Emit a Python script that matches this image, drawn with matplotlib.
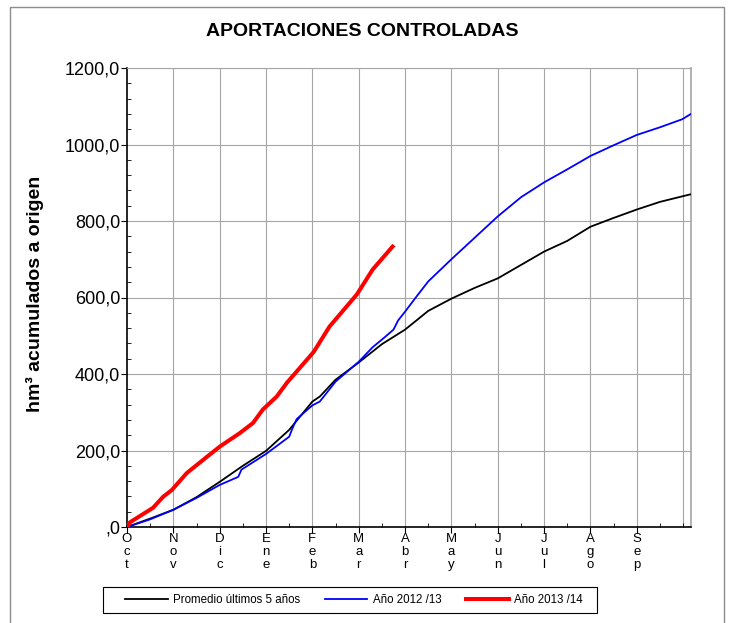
import matplotlib
matplotlib.use('Agg')
import matplotlib.pyplot as plt
from matplotlib.patches import Rectangle
from matplotlib.ticker import MultipleLocator

plt.rcParams['font.family'] = ['Liberation Sans', 'DejaVu Sans']

# month letters for the hydrological year (Oct -> Sep)
meses = ['Oct', 'Nov', 'Dic', 'Ene', 'Feb', 'Mar', 'Abr', 'May', 'Jun', 'Jul', 'Ago', 'Sep']

# x in months since 1 Oct, y in hm3 accumulated
prom_x = [0, 0.5, 1.0, 1.5, 2.0, 2.5, 3.0, 3.5, 4.0, 4.16, 4.5, 5.0, 5.5, 6.0, 6.5,
          7.0, 7.5, 8.0, 8.5, 9.0, 9.5, 10.0, 10.5, 11.0, 11.5, 12.0, 12.17]
prom_y = [0, 22, 45, 78, 118, 160, 199, 254, 328, 341, 385, 430, 478, 516, 565,
          597, 625, 650, 685, 720, 748, 785, 808, 830, 850, 865, 870]

a1213_x = [0, 0.5, 1.0, 1.5, 2.0, 2.4, 2.47, 3.0, 3.5, 3.56, 3.66, 4.0, 4.16, 4.5,
           5.0, 5.3, 5.55, 5.75, 5.85, 6.0, 6.25, 6.5, 7.0, 7.5, 8.0, 8.5, 9.0,
           9.5, 10.0, 10.5, 11.0, 11.5, 11.98, 12.17]
a1213_y = [0, 20, 45, 76, 110, 131, 150, 191, 236, 255, 282, 318, 328, 380,
           432, 470, 495, 516, 540, 563, 603, 642, 700, 756, 812, 862, 901,
           935, 970, 998, 1025, 1045, 1066, 1080]

a1314_x = [0, 0.06, 0.56, 0.78, 0.97, 1.29, 1.72, 2.0, 2.44, 2.72, 2.93, 3.23,
           3.45, 4.03, 4.37, 4.96, 5.30, 5.73]
a1314_y = [0, 12, 50, 79, 97, 141, 183, 210, 246, 272, 307, 341,
           377, 458, 524, 608, 673, 733]

fig = plt.figure(figsize=(7.32, 6.23), dpi=100)
ax = fig.add_axes([127 / 732, 1 - 527 / 623, 564 / 732, 459 / 623])

ax.plot(prom_x, prom_y, color='black', lw=1.3, label='Promedio últimos 5 años', zorder=3)
ax.plot(a1213_x, a1213_y, color='#0000ff', lw=1.3, label='Año 2012 /13', zorder=4)
ax.plot(a1314_x, a1314_y, color='#ff0000', lw=2.9, label='Año 2013 /14', zorder=5)

ax.set_xlim(0, 12.17)
ax.set_ylim(0, 1200)

ax.set_xticks(range(12))
ax.set_xticklabels(['\n'.join(m) for m in meses], fontsize=9.5, linespacing=1.1)
ax.xaxis.set_minor_locator(MultipleLocator(0.5))
ax.tick_params(axis='x', which='major', direction='out', length=4, pad=0.5)
ax.tick_params(axis='x', which='minor', direction='in', length=3)

yt = list(range(0, 1201, 200))
ax.set_yticks(yt)
ax.set_yticklabels([',0' if v == 0 else f'{v},0' for v in yt], fontsize=13)
ax.yaxis.set_minor_locator(MultipleLocator(40))
ax.tick_params(axis='y', which='major', direction='out', length=4, pad=1)
ax.tick_params(axis='y', which='minor', direction='in', length=3)

for xv in range(1, 13):
    ax.axvline(xv, color='#a6a6a6', lw=0.8, zorder=1)
for yv in yt[1:]:
    ax.axhline(yv, color='#a6a6a6', lw=0.8, zorder=1)

ax.spines['top'].set_color('#a6a6a6')
ax.spines['right'].set_color('#a6a6a6')
ax.spines['right'].set_linewidth(1.2)
ax.spines['left'].set_linewidth(1.2)
ax.spines['bottom'].set_linewidth(1.2)

fig.text(362 / 732, 1 - 32 / 623, 'APORTACIONES CONTROLADAS', ha='center', va='center',
         fontsize=14, fontweight='bold')
fig.text(35 / 732, 1 - 294 / 623, 'hm³ acumulados a origen', ha='center', va='center',
         rotation=90, fontsize=14, fontweight='bold')

leg = fig.legend(loc='center', bbox_to_anchor=(354 / 732, 1 - 600 / 623), ncol=3,
                 fontsize=8.3, handlelength=3.7, handletextpad=0.5, columnspacing=2.1,
                 frameon=False)

# legend box, drawn separately for its wide side margins
fig.patches.append(Rectangle((103 / 732, 1 - 613 / 623), 494 / 732, 26 / 623,
                             transform=fig.transFigure, fill=False,
                             edgecolor='black', lw=0.8))

# outer border of the chart area
fig.patches.append(Rectangle((10 / 732, -0.05), 714 / 732, 1 - 7 / 623 + 0.05,
                             transform=fig.transFigure, fill=False,
                             edgecolor='#8c8c8c', lw=1.0))

fig.savefig('out.png', dpi=100)
